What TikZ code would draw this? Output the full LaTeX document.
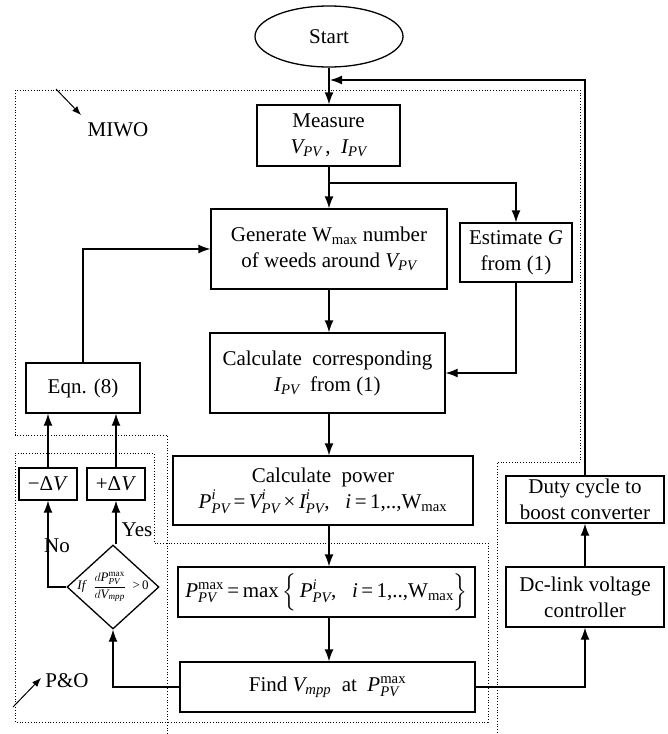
\documentclass[tikz,border=0pt]{standalone}
\usepackage{amsmath}
\usepackage{fontspec}
\setmainfont{Liberation Serif}
\usetikzlibrary{arrows.meta,shapes.geometric}
\newcommand{\qv}[3]{$\textit{#1}^{\textit{#2}}_{\textit{#3}}$}
\newcommand{\qm}[1]{$\textit{#1}^{\textrm{max}}_{\textit{PV}}$}
\newcommand{\sv}[2]{$\textit{#1}_{\textit{#2}}$}
\newcommand{\wmx}{W$_{\textrm{max}}$}
\begin{document}
\begin{tikzpicture}[x=1pt,y=-1pt,font=\fontsize{21}{26}\selectfont,
  box/.style={draw,line width=1.3pt,rectangle,inner sep=0pt,align=center},
  arr/.style={-{Latex[length=12pt,width=9pt]},line width=1.3pt},
  arrs/.style={-{Latex[length=9pt,width=7pt]},line width=1pt},
  zone/.style={dotted,line width=0.8pt}]
\useasboundingbox (0,0) rectangle (668,734);
% zones
\draw[zone] (167,734) -- (167,435) -- (15,435) -- (15,90) -- (580,90) -- (580,462) -- (497,462) -- (497,734);
\draw[zone] (15,453) -- (154,453) -- (154,543) -- (488,543) -- (488,722) -- (15,722) -- cycle;
% nodes
\node[draw,ellipse,line width=1.3pt,minimum width=148,minimum height=61,inner sep=0pt] (start) at (329,36.5) {Start};
\node[box,minimum width=143,minimum height=61] (measure) at (328.5,135.5) {Measure\\ \sv{V}{PV}\,,\ \ \sv{I}{PV}};
\node[box,minimum width=236,minimum height=80] (generate) at (329,249) {Generate \wmx{} number\\ of weeds around \sv{V}{PV}};
\node[box,minimum width=112,minimum height=59] (estimate) at (516,252.5) {Estimate \textit{G}\\ from (1)};
\node[box,minimum width=235,minimum height=80] (calccorr) at (327.5,373) {Calculate\ \ corresponding\\ \sv{I}{PV}\ \ from (1)};
\node[box,minimum width=300,minimum height=69] (calcpow) at (323,490.5) {Calculate\ \ power\\ \qv{P}{i}{PV}\,=\,\qv{V}{i}{PV}\,×\,\qv{I}{i}{PV},\ \ \ \textit{i}\,=\,1,..,\wmx};
\node[box,minimum width=297,minimum height=50] (pmax) at (326.5,592) {\qm{P}\,=\,max\,$\Big\{$\,\qv{P}{i}{PV},\ \ \ \textit{i}\,=\,1,..,\wmx$\Big\}$};
\node[box,minimum width=295,minimum height=50] (find) at (327.5,687) {Find \sv{V}{mpp}\ \ at\ \ \qm{P}};
\node[box,minimum width=158,minimum height=60] (dclink) at (585,597) {Dc-link voltage\\ controller};
\node[box,minimum width=158,minimum height=47] (duty) at (585,499.5) {Duty cycle to\\ boost converter};
\node[box,minimum width=114,minimum height=50] (eqn) at (83,388) {Eqn. (8)};
\node[box,minimum width=58,minimum height=32] (mdv) at (48,484) {−Δ\textit{V}};
\node[box,minimum width=58,minimum height=32] (pdv) at (116,484) {+Δ\textit{V}};
\node[draw,diamond,line width=1.3pt,minimum width=92,minimum height=84,inner sep=0pt] (dia) at (113,587) {};
\node[inner sep=0pt,font=\fontsize{13}{15}\selectfont] (diatext) at (dia.center) {\textit{If}\ \ $\displaystyle\frac{d\textit{P}^{\textrm{max}}_{\textit{PV}}}{d\textit{V}_{\textit{mpp}}}$\ \ >\,0};
\node (yes) at (137,530) {Yes};
\node (no) at (57,546) {No};
\node (miwo) at (118,130) {MIWO};
\node (po) at (67,681) {P\&O};
% coordinates
\coordinate (ax) at (329,0);
\coordinate (br) at (329,183);
\coordinate (fb) at (330,80);
\coordinate (miwoa) at (56,89);
\coordinate (miwob) at (81,115);
\coordinate (poa) at (13,707);
\coordinate (pob) at (41,678);
% connectors
\draw[arr] (ax |- start.south) -- (ax |- measure.north);
\draw[arr] (ax |- measure.south) -- (ax |- generate.north);
\draw[arr] (br) -| (estimate.north);
\draw[arr] (ax |- generate.south) -- (ax |- calccorr.north);
\draw[arr] (estimate.south) |- (calccorr.east);
\draw[arr] (ax |- calccorr.south) -- (ax |- calcpow.north);
\draw[arr] (ax |- calcpow.south) -- (ax |- pmax.north);
\draw[arr] (ax |- pmax.south) -- (ax |- find.north);
\draw[arr] (eqn.north) |- (generate.west);
\draw[arr] (mdv.north) -- (mdv.north |- eqn.south);
\draw[arr] (pdv.north) -- (pdv.north |- eqn.south);
\draw[arr] (dia.north -| pdv.south) -- (pdv.south);
\draw[arr] (dia.west) -| (mdv.south);
\draw[arr] (find.west) -| (dia.south);
\draw[arr] (find.east) -| (dclink.south);
\draw[arr] (dclink.north) -- (duty.south);
\draw[arr] (duty.north) |- (fb);
\draw[arrs] (miwoa) -- (miwob);
\draw[arrs] (poa) -- (pob);
\end{tikzpicture}
\end{document}
